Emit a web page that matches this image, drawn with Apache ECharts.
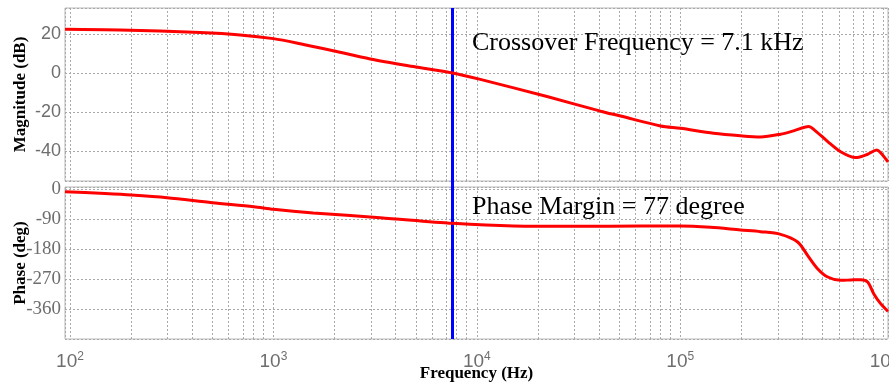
<!DOCTYPE html>
<html>
<head>
<meta charset="utf-8">
<script src="https://cdn.jsdelivr.net/npm/echarts@6/dist/echarts.min.js"></script>
<style>html,body{margin:0;padding:0;background:#fff}#c{width:889px;height:385px}</style>
</head>
<body>
<div id="c"></div>
<script>
// ---- data ----
const magFreq = [94.5, 176, 436, 686, 1000, 1355, 1968, 2993, 4874, 7600, 10400, 22130, 40550, 50850, 80000, 100200, 145800, 197800, 248200, 311300, 360600, 427500, 452700, 530700, 614200, 728000, 833900, 924000, 966000, 1050000];
const magDb   = [22.4, 22.05, 20.7, 19.5, 17.6, 15.0, 11.4, 7.2, 3.3, 0, -3.3, -12.1, -19.6, -22.1, -27.2, -28.4, -30.9, -32.2, -32.8, -31.4, -29.7, -27.5, -28.9, -35.2, -40.4, -43.4, -41.7, -39.5, -40.9, -45.6];
const phFreq  = [94.5, 140.6, 200, 300, 500, 800, 1000, 1570, 3350, 7600, 15100, 32300, 63700, 100200, 140900, 197800, 248200, 311300, 377600, 422500, 473000, 530700, 614200, 689000, 771400, 833900, 893000, 966000, 1050000];
const phDeg   = [-8, -13, -18, -26, -41, -53, -61, -72, -86, -103, -111, -112, -111, -111, -115, -123, -128, -136, -159, -199, -239, -264, -274, -273, -272, -279, -314, -344, -367];
const crossoverFreq = 7600;
const magRange = [-55.4, 33.3];
const phaseRange = [-450, 6];
const freqRange = [94.5, 1050000];
const decades = [100, 1000, 10000, 100000, 1000000];
const minorMult = [2, 3, 4, 5, 6, 7, 8, 9];
const crossoverText = 'Crossover Frequency = 7.1 kHz';
const phaseText = 'Phase Margin = 77 degree';

// frequency axis is drawn as a value axis over log10(Hz)
const lg = Math.log10;
const minorFreqs = [];
decades.forEach(d => minorMult.forEach(m => { const v = d * m; if (v < freqRange[1]) minorFreqs.push(v); }));

const gridColor = '#a9a9a9';
const frameColor = '#b8b8b8';
const sans = '"Liberation Sans", Arial, sans-serif';
const serif = '"Liberation Serif", "Times New Roman", serif';

function pow10Label(v) {
  const n = Math.round(v);
  if (Math.abs(v - n) > 1e-6) return '';
  return '{b|10}{s|' + n + '}';
}

const chart = echarts.init(document.getElementById('c'), null, {renderer: 'canvas'});

const gridLineStyle = {color: gridColor, type: [2, 2], width: 1};
function minorLines() {
  return {
    silent: true, symbol: 'none', animation: false,
    label: {show: false},
    lineStyle: gridLineStyle,
    data: minorFreqs.map(v => ({xAxis: lg(v)}))
  };
}

const xBase = {
  type: 'value', min: lg(freqRange[0]), max: lg(freqRange[1]), splitNumber: 4,
  axisLine: {show: false}, axisTick: {show: false},
  splitLine: {show: true, lineStyle: gridLineStyle}
};

const gridBase = {left: 65, width: 823, outerBoundsMode: 'none', containLabel: false};

chart.setOption({
  animation: false,
  grid: [
    Object.assign({}, gridBase, {top: 8, height: 173, show: true, borderColor: frameColor, borderWidth: 1, backgroundColor: 'transparent'}),
    Object.assign({}, gridBase, {top: 187, height: 152, show: true, borderColor: frameColor, borderWidth: 1, backgroundColor: 'transparent'}),
    Object.assign({}, gridBase, {top: 8, height: 331, show: false})
  ],
  xAxis: [
    Object.assign({}, xBase, {gridIndex: 0, axisLabel: {show: false}}),
    Object.assign({}, xBase, {
      gridIndex: 1,
      name: 'Frequency (Hz)', nameLocation: 'middle', nameGap: 26, nameMoveOverlap: false,
      nameTextStyle: {fontFamily: serif, fontWeight: 'bold', fontSize: 17, color: '#000'},
      axisLabel: {
        show: true, margin: 12, showMinLabel: false, showMaxLabel: false, hideOverlap: false,
        formatter: pow10Label,
        rich: {
          b: {fontFamily: sans, fontSize: 19, color: '#6e6e6e'},
          s: {fontFamily: sans, fontSize: 12, color: '#6e6e6e', verticalAlign: 'top', padding: [0, 0, 10, 0]}
        }
      }
    }),
    Object.assign({}, xBase, {gridIndex: 2, show: false, splitLine: {show: false}})
  ],
  yAxis: [
    {
      type: 'value', gridIndex: 0, min: magRange[0], max: magRange[1], splitNumber: 5,
      name: 'Magnitude (dB)', nameLocation: 'middle', nameGap: 36, nameRotate: 90, nameMoveOverlap: false,
      nameTextStyle: {fontFamily: serif, fontWeight: 'bold', fontSize: 17, color: '#000'},
      axisLine: {show: false}, axisTick: {show: false},
      axisLabel: {fontFamily: sans, fontSize: 18, color: '#6e6e6e', margin: 4, showMinLabel: false, showMaxLabel: false},
      splitLine: {show: true, lineStyle: gridLineStyle}
    },
    {
      type: 'value', gridIndex: 1, min: phaseRange[0], max: phaseRange[1], interval: 90,
      name: 'Phase (deg)', nameLocation: 'middle', nameGap: 36, nameRotate: 90, nameMoveOverlap: false,
      nameTextStyle: {fontFamily: serif, fontWeight: 'bold', fontSize: 17, color: '#000'},
      axisLine: {show: false}, axisTick: {show: false},
      axisLabel: {fontFamily: serif, fontSize: 19, color: '#6e6e6e', margin: 4, showMinLabel: false, showMaxLabel: false},
      splitLine: {show: true, lineStyle: gridLineStyle}
    },
    {type: 'value', gridIndex: 2, min: 0, max: 1, show: false, splitLine: {show: false}}
  ],
  series: [
    {type: 'line', xAxisIndex: 0, yAxisIndex: 0, data: [], markLine: minorLines()},
    {type: 'line', xAxisIndex: 1, yAxisIndex: 1, data: [], markLine: minorLines()},
    {
      name: 'Magnitude', type: 'line', xAxisIndex: 0, yAxisIndex: 0,
      data: magFreq.map((f, i) => [lg(f), magDb[i]]),
      showSymbol: false, smooth: 0.3,
      lineStyle: {color: '#ff0000', width: 3}, z: 5
    },
    {
      name: 'Phase', type: 'line', xAxisIndex: 1, yAxisIndex: 1,
      data: phFreq.map((f, i) => [lg(f), phDeg[i]]),
      showSymbol: false, smooth: 0.3,
      lineStyle: {color: '#ff0000', width: 3}, z: 5
    },
    {
      type: 'scatter', xAxisIndex: 2, yAxisIndex: 2, data: [[lg(crossoverFreq), 0.5]], symbolSize: 0, z: 6,
      markLine: {
        silent: true, symbol: 'none', animation: false, label: {show: false},
        lineStyle: {color: '#0000ff', width: 3, type: 'solid'},
        data: [{xAxis: lg(crossoverFreq)}]
      }
    }
  ],
  graphic: [
    {type: 'text', left: 472, top: 30, z: 10, style: {text: crossoverText, font: '26px ' + serif, fill: '#000'}},
    {type: 'text', left: 472, top: 194, z: 10, style: {text: phaseText, font: '26px ' + serif, fill: '#000'}}
  ]
});
</script>
</body>
</html>
